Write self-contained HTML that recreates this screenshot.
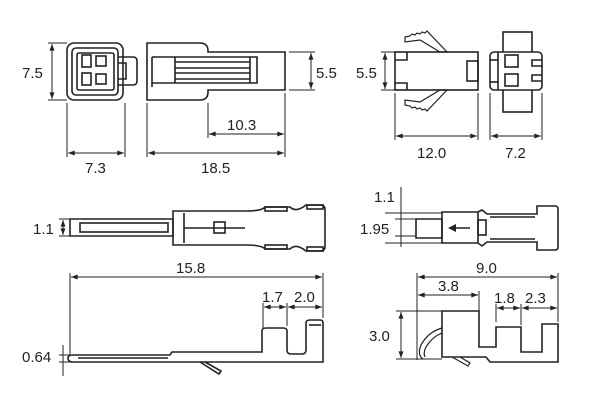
<!DOCTYPE html>
<html><head><style>
html,body{margin:0;padding:0;background:#fff;}
svg{display:block;}
text{font-family:"Liberation Sans",sans-serif;font-size:15px;fill:#222;}
</style></head><body>
<svg width="600" height="400" viewBox="0 0 600 400" xmlns="http://www.w3.org/2000/svg">
<defs>
<marker id="a" viewBox="0 0 8 6" refX="8" refY="3" markerWidth="7" markerHeight="5" orient="auto-start-reverse"><path d="M0,0 L8,3 L0,6 Z" fill="#222"/></marker>
</defs>
<g fill="none" stroke="#222" stroke-width="1.6">
<rect x="67" y="43" width="56" height="57" rx="7"/>
<rect x="72" y="48" width="46" height="47" rx="4"/>
<rect x="77" y="53" width="37" height="37" rx="2"/>
<rect x="82" y="55" width="9" height="12"/><rect x="82" y="73" width="9" height="12"/>
<rect x="96" y="56" width="10" height="10"/><rect x="96" y="74" width="10" height="10"/>
<path d="M118,57 H133 Q137,57 137,61 V81 Q137,85 133,85 H118"/>
<path d="M118,63 H126 V79 H118"/>
<path d="M147,43 H200 Q208,43 208,51 V52 H285 V90 H208 V92 Q208,100 200,100 H147 Z"/>
<line x1="152" y1="57" x2="152" y2="87"/>
<path d="M152,57 H257 V83 H152"/>
<line x1="175" y1="57" x2="175" y2="83"/>
<line x1="175" y1="62" x2="250" y2="62"/><line x1="175" y1="68" x2="250" y2="68"/><line x1="175" y1="73" x2="250" y2="73"/><line x1="175" y1="79" x2="250" y2="79"/>
<line x1="250" y1="57" x2="250" y2="83"/>
<rect x="395" y="52" width="83" height="38"/>
<path d="M395,60 H407 V52 M395,83 H407 V90"/>
<rect x="467" y="61" width="11" height="20"/>
<path stroke-width="1.2" d="M405,37 L410,36 L412,34 L415,35 L417,33 L420,34 L422,32 L425,33 L427,31 L447,52 L440,52 L420,40 L405,42 Z"/>
<path stroke-width="1.2" d="M405,105 L410,106 L412,108 L415,107 L417,109 L420,108 L422,110 L425,109 L427,111 L447,90 L440,90 L420,102 L405,100 Z"/>
<rect x="503" y="32" width="29" height="80"/>
<rect x="490" y="52" width="52" height="38" rx="4" fill="#fff"/>
<line x1="498" y1="52" x2="498" y2="90"/>
<line x1="490" y1="60" x2="498" y2="60"/><line x1="490" y1="82" x2="498" y2="82"/>
<rect x="505" y="55" width="13" height="12"/><rect x="505" y="74" width="13" height="12"/>
<path d="M542,60 H532 V66 H542 M542,75 H532 V81 H542"/>
<path d="M70,219 H173 V236 H70 Z"/>
<rect x="80" y="223" width="88" height="9"/>
<path d="M173,211 H245 Q262,211 265,207 H290 Q296,213 306,205 H323 L325,208 V248 L323,251 H306 Q296,243 290,249 H265 Q262,245 245,245 H173 Z"/>
<line x1="184" y1="213" x2="184" y2="243"/>
<line x1="184" y1="228" x2="245" y2="228"/>
<rect x="214" y="222" width="11" height="11"/>
<rect x="265" y="207" width="22" height="4"/><rect x="265" y="245" width="22" height="4"/>
<rect x="307" y="205" width="16" height="4"/><rect x="307" y="247" width="16" height="4"/>
<path d="M73,355 H170 L172,352 H262 V331 Q262,328 266,328 H283 Q287,328 287,331 V350 Q287,354 291,354 H302 Q306,354 306,350 V323 Q306,320 310,320 H320 Q323,320 323,323 V362 H73 Q68,362 68,358 Q68,355 73,355 Z"/>
<line x1="78" y1="358" x2="168" y2="358"/>
<line x1="309" y1="325" x2="321" y2="325"/>
<path d="M200,362 L219,374 L221,371 L205,362"/>
<path d="M416,219 H442 V238 H416 Z"/>
<path d="M442,212 H478 L482,210 L487,214 H537 V206 H555 Q558,206 558,209 V247 Q558,250 555,250 H537 V242 H487 L482,246 L478,243 H442 Z"/>
<line x1="478" y1="212" x2="478" y2="243"/>
<line x1="490" y1="217" x2="535" y2="217"/><line x1="490" y1="239" x2="535" y2="239"/>
<rect x="478" y="220" width="8" height="15"/>
<line x1="450" y1="228" x2="470" y2="228"/>
<path d="M442,311 H479 V347 H496 V327 H521 V352 H542 V324 H558 V362 H490 L486,357 H442 Z"/>
<path stroke-width="1.2" d="M442,328 Q428,332 421,345 Q417,355 423,359 M442,333 Q432,337 426,347 Q423,353 425,357"/>
<path stroke-width="1.2" d="M452,357 L468,366 L470,363 L460,357"/>
<g stroke-width="1">
<path d="M48,43 H67 M48,100 H67 M67,103 V157 M125,103 V157 M147,103 V157 M285,93 V157 M208,103 V138 M289,52 H315 M289,90 H315"/>
<path d="M381,52 H395 M381,90 H395 M395,93 V140 M478,93 V140 M490,93 V140 M542,93 V140"/>
<path d="M59,219 H70 M59,236 H70 M70,273 V355 M323,273 V318 M263,303 V328 M287,303 V326 M59,355 H70 M59,362 H70"/>
<path d="M385,213 H442 M385,243 H442 M395,219 H416 M395,236 H416 M417,273 V360 M558,273 V322 M479,291 V311 M496,304 V322 M521,304 V325 M396,311 H442 M396,359 H442"/>
</g>
<g stroke-width="1" marker-start="url(#a)" marker-end="url(#a)">
<line x1="52" y1="44" x2="52" y2="99"/>
<line x1="68" y1="153" x2="124" y2="153"/>
<line x1="148" y1="153" x2="284" y2="153"/>
<line x1="209" y1="134" x2="284" y2="134"/>
<line x1="311" y1="53" x2="311" y2="89"/>
<line x1="385" y1="53" x2="385" y2="89"/>
<line x1="396" y1="136" x2="477" y2="136"/>
<line x1="491" y1="136" x2="541" y2="136"/>
<line x1="63" y1="220" x2="63" y2="235"/>
<line x1="71" y1="277" x2="322" y2="277"/>
<line x1="264" y1="307" x2="286" y2="307"/>
<line x1="288" y1="307" x2="322" y2="307"/>
<line x1="418" y1="277" x2="557" y2="277"/>
<line x1="418" y1="295" x2="478" y2="295"/>
<line x1="497" y1="308" x2="520" y2="308"/>
<line x1="522" y1="308" x2="557" y2="308"/>
<line x1="401" y1="312" x2="401" y2="358"/>
</g>
<g stroke-width="1">
<line x1="63" y1="345" x2="63" y2="376"/>
<line x1="401" y1="187" x2="401" y2="247"/>
</g>
</g>
<path d="M448,228 L456,224 L456,232 Z" fill="#222"/>
<g>
<text x="22" y="78">7.5</text>
<text x="85" y="173">7.3</text>
<text x="201" y="173">18.5</text>
<text x="227" y="130">10.3</text>
<text x="316" y="78">5.5</text>
<text x="356" y="78">5.5</text>
<text x="417" y="158">12.0</text>
<text x="505" y="158">7.2</text>
<text x="33" y="234">1.1</text>
<text x="176" y="273">15.8</text>
<text x="262" y="302">1.7</text>
<text x="294" y="302">2.0</text>
<text x="22" y="362">0.64</text>
<text x="374" y="202">1.1</text>
<text x="360" y="234">1.95</text>
<text x="476" y="273">9.0</text>
<text x="438" y="291">3.8</text>
<text x="494" y="303">1.8</text>
<text x="525" y="303">2.3</text>
<text x="369" y="341">3.0</text>
</g>
</svg>
</body></html>
